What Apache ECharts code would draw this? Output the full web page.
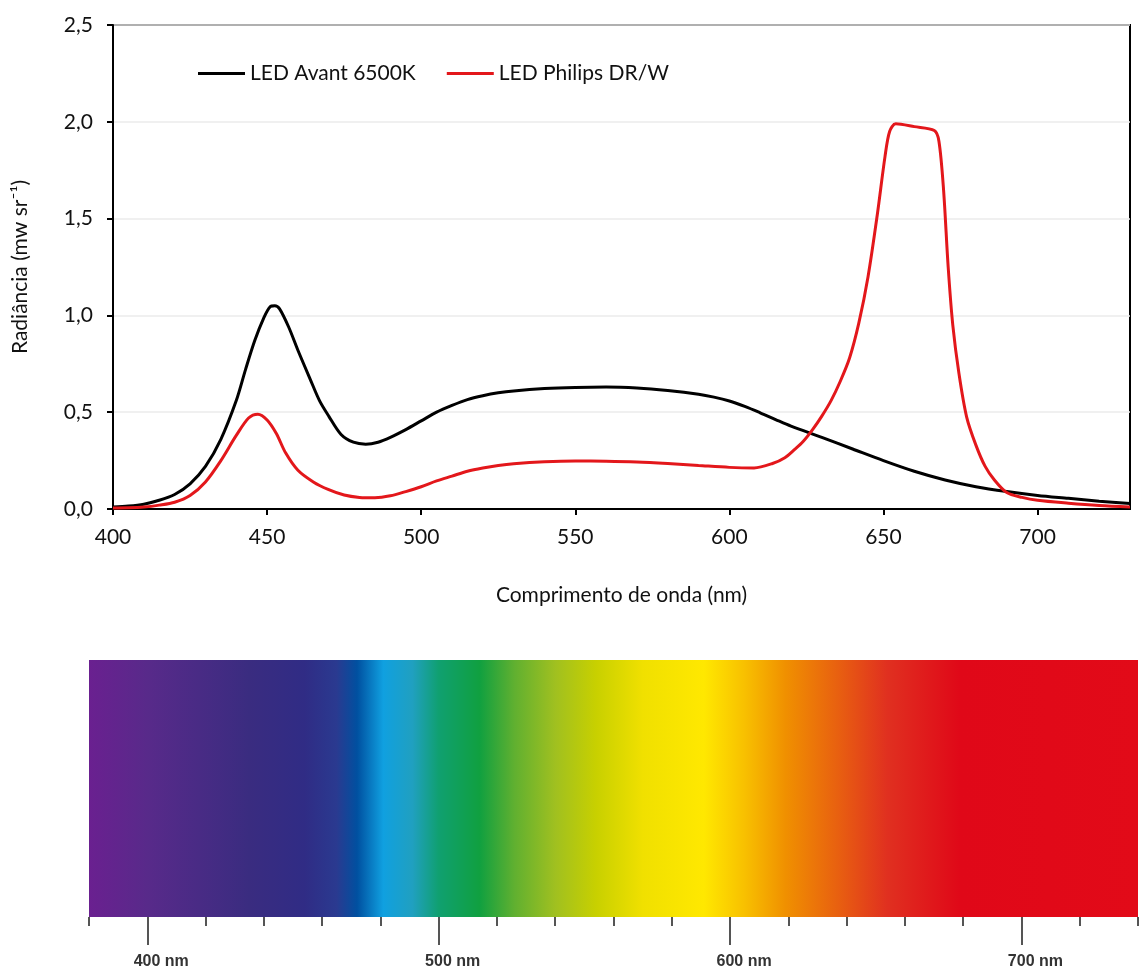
<!DOCTYPE html>
<html>
<head>
<meta charset="utf-8">
<script src="https://cdn.jsdelivr.net/npm/echarts@6/dist/echarts.min.js"></script>
<style>
  html, body { margin: 0; padding: 0; background: #fff; }
  #chart { width: 1142px; height: 974px; }
</style>
</head>
<body>
<div id="chart"></div>
<script>
// LED Avant 6500K: [nm, radiance]
const avantData = [
  [400, 0.01], [405, 0.015], [410, 0.025], [415, 0.045], [420, 0.075],
  [425, 0.13], [430, 0.22], [435, 0.36], [440, 0.56], [443, 0.72],
  [446, 0.87], [449, 0.99], [451, 1.045], [452.5, 1.05], [454, 1.035],
  [457, 0.94], [460, 0.82], [464, 0.67], [467, 0.56], [470, 0.48],
  [474, 0.385], [478, 0.345], [482, 0.335], [486, 0.345], [490, 0.37],
  [495, 0.41], [500, 0.455], [505, 0.5], [510, 0.535], [515, 0.565],
  [520, 0.585], [525, 0.6], [530, 0.61], [540, 0.622], [550, 0.628],
  [560, 0.63], [570, 0.625], [580, 0.612], [590, 0.593], [595, 0.578],
  [600, 0.558], [605, 0.53], [610, 0.497], [615, 0.462], [620, 0.428],
  [630, 0.37], [640, 0.31], [650, 0.25], [660, 0.195], [670, 0.15],
  [680, 0.115], [690, 0.09], [700, 0.07], [710, 0.055], [720, 0.04],
  [730, 0.028]
]

// LED Philips DR/W: [nm, radiance]
const philipsData = [
  [400, 0.005], [405, 0.006], [410, 0.01], [415, 0.02], [420, 0.035],
  [425, 0.07], [430, 0.14], [435, 0.25], [440, 0.38], [444, 0.47],
  [447, 0.49], [450, 0.46], [453, 0.39], [456, 0.29], [460, 0.2],
  [465, 0.14], [470, 0.1], [475, 0.072], [480, 0.06], [485, 0.058],
  [490, 0.068], [495, 0.09], [500, 0.115], [505, 0.145], [510, 0.17],
  [515, 0.195], [520, 0.212], [525, 0.225], [530, 0.234], [540, 0.244],
  [550, 0.248], [560, 0.247], [570, 0.243], [580, 0.235], [590, 0.225],
  [600, 0.215], [608, 0.212], [614, 0.235], [618, 0.265], [621, 0.305],
  [624, 0.35], [627, 0.41], [630, 0.48], [633, 0.56], [636, 0.66],
  [639, 0.78], [642, 0.96], [645, 1.2], [648, 1.52], [650.5, 1.82],
  [652, 1.95], [654, 1.99], [660, 1.975], [666.5, 1.955], [668, 1.9],
  [669.5, 1.65], [671, 1.25], [672.5, 0.95], [674.5, 0.7], [677, 0.475],
  [680, 0.33], [683, 0.22], [686, 0.15], [690, 0.085], [695, 0.06],
  [700, 0.045], [710, 0.03], [720, 0.018], [730, 0.01]
]

// colour band underneath
const spectrumNm = [380, 400, 435, 454, 465, 472, 481, 491, 500, 514, 526, 540, 554, 570, 591, 605, 619, 637, 654, 679, 740]
const spectrumColors = [
  '#6a2090', '#582a8a', '#3a2c80', '#302c85', '#2a3a90', '#0050a0', '#10a0e0',
  '#20a0c0', '#10a070', '#10a040', '#60b030', '#a0c020', '#c8d000', '#f0e000',
  '#ffe800', '#f8c000', '#f09000', '#e86010', '#e03020', '#e00818', '#e20a18'
]
const spectrumTicks = [380, 400, 420, 440, 460, 480, 500, 520, 540, 560, 580, 600, 620, 640, 660, 680, 700, 720, 740]
const spectrumLabels = [400, 500, 600, 700]

const specMin = 380
const specMax = 740
const stops = spectrumNm.map((nm, i) => ({
  offset: (nm - specMin) / (specMax - specMin),
  color: spectrumColors[i]
}))

const font = 'Lato, "Open Sans", sans-serif'
const chart = echarts.init(document.getElementById('chart'))

const option = {
  animation: false,
  backgroundColor: '#fff',
  textStyle: { fontFamily: font },
  legend: {
    left: 193,
    top: 58,
    icon: 'rect',
    itemWidth: 47,
    itemHeight: 3,
    itemGap: 31,
    textStyle: { fontSize: 21, color: '#111', fontFamily: font },
    data: ['LED Avant 6500K', 'LED Philips DR/W']
  },
  grid: [
    {
      left: 113, right: 12, top: 25, bottom: 465,
      show: true, borderColor: '#000', borderWidth: 2, backgroundColor: 'transparent'
    },
    { left: 89, right: 4, top: 660, bottom: 57 }
  ],
  xAxis: [
    {
      gridIndex: 0,
      type: 'value',
      min: 400,
      max: 730,
      interval: 50,
      name: 'Comprimento de onda (nm)',
      nameLocation: 'middle',
      nameGap: 76,
      nameTextStyle: { fontSize: 21, color: '#111' },
      axisLine: { lineStyle: { color: '#000', width: 2 } },
      axisTick: { show: true, length: 6, lineStyle: { color: '#000', width: 2 } },
      axisLabel: { fontSize: 21, color: '#111', margin: 18, showMaxLabel: false },
      splitLine: { show: false }
    },
    {
      gridIndex: 1,
      type: 'value',
      min: specMin,
      max: specMax,
      interval: 20,
      offset: 8,
      axisLine: { show: false },
      axisTick: {
        show: true, length: 9, customValues: spectrumTicks,
        lineStyle: { color: '#555', width: 2 }
      },
      axisLabel: {
        customValues: spectrumLabels,
        formatter: (v) => v + ' nm',
        fontFamily: 'Arial, "Liberation Sans", sans-serif',
        fontWeight: 'bold',
        fontSize: 16,
        color: '#333',
        margin: 29,
        padding: [0, 0, 0, 28]
      },
      splitLine: { show: false }
    },
    {
      gridIndex: 1,
      type: 'value',
      min: specMin,
      max: specMax,
      offset: 8,
      position: 'bottom',
      axisLine: { show: false },
      axisTick: {
        show: true, length: 20, customValues: spectrumLabels,
        lineStyle: { color: '#555', width: 2 }
      },
      axisLabel: { show: false },
      splitLine: { show: false }
    }
  ],
  yAxis: [
    {
      gridIndex: 0,
      type: 'value',
      min: 0,
      max: 2.5,
      interval: 0.5,
      name: 'Radiância (mw sr⁻¹)',
      nameLocation: 'middle',
      nameGap: 82,
      nameTextStyle: { fontSize: 21, color: '#111' },
      axisLine: { show: true, lineStyle: { color: '#000', width: 2 } },
      axisTick: { show: true, length: 6, lineStyle: { color: '#000', width: 2 } },
      axisLabel: {
        fontSize: 21,
        color: '#111',
        margin: 20,
        formatter: (v) => v.toFixed(1).replace('.', ',')
      },
      splitLine: { show: true, lineStyle: { color: '#ebebeb', width: 1.5 } }
    },
    { gridIndex: 1, type: 'value', min: 0, max: 1, show: false }
  ],
  series: [
    {
      name: 'LED Avant 6500K',
      type: 'line',
      xAxisIndex: 0,
      yAxisIndex: 0,
      data: avantData,
      smooth: 0.3,
      symbol: 'none',
      lineStyle: { color: '#000', width: 3 },
      itemStyle: { color: '#000' },
      z: 3
    },
    {
      name: 'LED Philips DR/W',
      type: 'line',
      xAxisIndex: 0,
      yAxisIndex: 0,
      data: philipsData,
      smooth: 0.3,
      symbol: 'none',
      lineStyle: { color: '#e3171b', width: 3 },
      itemStyle: { color: '#e3171b' },
      z: 4
    },
    {
      name: 'spectrum',
      type: 'line',
      xAxisIndex: 1,
      yAxisIndex: 1,
      data: [[specMin, 1], [specMax, 1]],
      symbol: 'none',
      lineStyle: { width: 0 },
      areaStyle: {
        opacity: 1,
        color: new echarts.graphic.LinearGradient(0, 0, 1, 0, stops)
      },
      silent: true
    }
  ]
}

chart.setOption(option)
</script>
</body>
</html>
